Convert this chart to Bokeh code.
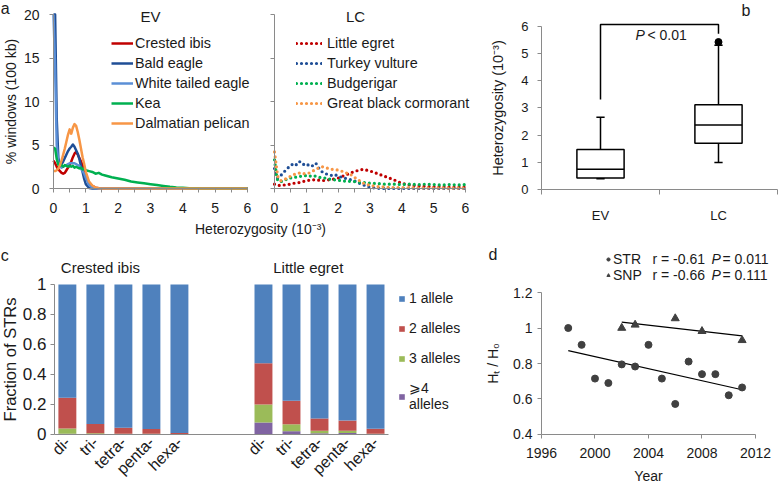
import math
from bokeh.plotting import figure
from bokeh.layouts import row, column
from bokeh.models import Range1d, FixedTicker, Legend, LegendItem, Label, ColumnDataSource
from bokeh.embed import file_html
from bokeh.resources import INLINE
from bokeh.core.properties import value

# ---------------- data: panel a (EV) ----------------
ev_x = [0.0, 0.05, 0.1, 0.15, 0.2, 0.25, 0.3, 0.35, 0.4, 0.45, 0.5, 0.55, 0.6, 0.65, 0.7, 0.75, 0.8, 0.85, 0.9, 0.95, 1.0,
        1.1, 1.2, 1.3, 1.4, 1.5, 1.6,
        1.8, 2.0, 2.2, 2.4, 2.6, 2.8, 3.0, 3.2, 3.4, 3.6, 3.8, 4.0, 4.2, 4.4, 4.6, 4.8, 5.0, 5.2, 5.4, 5.6, 5.8, 6.0]
crested_ibis = [3.2, 2.9, 2.5, 2.2, 2.0, 1.8, 1.7, 1.8, 2.1, 2.4, 2.7, 3.1, 3.6, 4.0, 4.2, 3.9, 3.5, 3.1, 2.7, 2.1, 1.5,
                0.6, 0.3, 0.1, 0.02, 0, 0,
                0, 0, 0, 0, 0, 0, 0, 0, 0, 0, 0, 0, 0, 0, 0, 0, 0, 0, 0, 0, 0, 0]
bald_eagle = [20, 20, 8.0, 3.5, 2.6, 2.8, 3.1, 3.5, 3.9, 4.3, 4.6, 4.8, 5.05, 4.8, 4.4, 4.0, 3.4, 2.6, 1.9, 1.1, 0.5,
              0.05, 0, 0, 0, 0, 0,
              0, 0, 0, 0, 0, 0, 0, 0, 0, 0, 0, 0, 0, 0, 0, 0, 0, 0, 0, 0, 0, 0]
white_tailed_eagle = [20, 14, 5.0, 3.0, 2.5, 2.4, 2.5, 2.6, 2.7, 2.8, 2.9, 2.9, 2.9, 2.9, 2.8, 2.7, 2.6, 2.3, 2.0, 1.7, 1.2,
                      0.4, 0.1, 0.02, 0, 0, 0,
                      0, 0, 0, 0, 0, 0, 0, 0, 0, 0, 0, 0, 0, 0, 0, 0, 0, 0, 0, 0, 0, 0]
kea = [4.7, 4.6, 3.4, 2.7, 2.6, 2.7, 2.5, 2.7, 2.6, 2.5, 2.6, 2.5, 2.6, 2.4, 2.5, 2.4, 2.3, 2.4, 2.2, 2.3, 2.1,
       2.0, 1.9, 1.7, 1.8, 1.6, 1.5,
       1.3, 1.15, 1.0, 0.8, 0.7, 0.6, 0.5, 0.4, 0.3, 0.2, 0.12, 0.08, 0.04, 0.02, 0.01, 0, 0, 0, 0, 0, 0, 0]
dalmatian_pelican = [2.0, 2.0, 2.1, 2.3, 2.7, 3.2, 3.9, 4.6, 5.4, 6.2, 6.8, 6.3, 7.0, 7.4, 7.2, 6.5, 5.6, 4.6, 3.6, 2.8, 1.9,
                     0.8, 0.35, 0.12, 0.04, 0, 0,
                     0, 0, 0, 0, 0, 0, 0, 0, 0, 0, 0, 0, 0, 0, 0, 0, 0, 0, 0, 0, 0, 0]
ev_names = ["Crested ibis", "Bald eagle", "White tailed eagle", "Kea", "Dalmatian pelican"]

# ---------------- data: panel a (LC) ----------------
lc_x = [0.0, 0.05, 0.1, 0.2, 0.3, 0.4, 0.5, 0.6, 0.7, 0.8, 0.9, 1.0, 1.1, 1.2, 1.3, 1.4, 1.5, 1.6, 1.7, 1.8, 1.9,
        2.0, 2.1, 2.2, 2.3, 2.4, 2.5, 2.6, 2.7, 2.8, 2.9, 3.0, 3.1, 3.2, 3.3, 3.4, 3.5,
        3.75, 4.0, 4.25, 4.5, 4.75, 5.0, 5.25, 5.5, 5.75, 6.0]
little_egret = [0.5, 0.4, 0.35, 0.35, 0.4, 0.45, 0.5, 0.6, 0.65, 0.7, 0.8, 0.9, 0.95, 1.0, 1.0, 0.95, 0.9, 0.95, 1.0, 1.05, 1.1,
                1.2, 1.35, 1.5, 1.65, 1.8, 1.95, 2.05, 2.15, 2.2, 2.1, 2.0, 1.9, 1.75, 1.6, 1.5, 1.35,
                1.0, 0.6, 0.4, 0.3, 0.25, 0.2, 0.2, 0.15, 0.15, 0.15]
turkey_vulture = [2.3, 1.5, 1.2, 1.5, 1.9, 2.3, 2.6, 2.9, 2.7, 3.1, 2.8, 2.6, 2.8, 2.6, 2.9, 2.3, 1.9, 1.7, 1.6, 1.5, 1.6,
                  1.4, 1.3, 1.2, 1.1, 1.0, 0.9, 0.7, 0.55, 0.4, 0.25, 0.15, 0.08, 0.04, 0.02, 0.01, 0.0,
                  0, 0, 0, 0, 0, 0, 0, 0, 0, 0]
budgerigar = [3.3, 1.8, 0.9, 0.8, 0.9, 1.1, 1.2, 1.3, 1.3, 1.4, 1.4, 1.5, 1.4, 1.5, 1.4, 1.3, 1.2, 1.2, 1.1, 1.0, 1.0,
              0.95, 0.9, 0.85, 0.85, 0.8, 0.8, 0.75, 0.7, 0.7, 0.65, 0.6, 0.6, 0.55, 0.55, 0.5, 0.5,
              0.5, 0.45, 0.5, 0.45, 0.5, 0.45, 0.4, 0.45, 0.4, 0.45]
great_black_cormorant = [4.2, 2.8, 1.4, 0.9, 1.0, 1.2, 1.4, 1.6, 1.7, 1.8, 1.7, 1.7, 1.8, 2.0, 2.2, 2.4, 2.5, 2.4, 2.3, 2.2, 2.2,
                         2.1, 2.0, 1.9, 1.7, 1.6, 1.3, 1.1, 0.8, 0.6, 0.45, 0.4, 0.3, 0.25, 0.2, 0.2, 0.15,
                         0.1, 0.1, 0.08, 0.06, 0.05, 0.05, 0.05, 0.04, 0.04, 0.04]
lc_names = ["Little egret", "Turkey vulture", "Budgerigar", "Great black cormorant"]
het_ticks = [0, 1, 2, 3, 4, 5, 6]
pct_ticks = [0, 5, 10, 15, 20]

# ---------------- data: panel b ----------------
box_groups = ["EV", "LC"]
box_low = [0.40, 1.00]
box_q1 = [0.43, 1.71]
box_med = [0.755, 2.38]
box_q3 = [1.48, 3.12]
box_high = [2.66, 5.30]
outlier_group = ["LC"]
outlier_val = [5.42]
bracket_heights = [3.31, 6.06, 5.72]   # EV leg bottom, top bar, LC leg bottom
het_b_ticks = [0, 1, 2, 3, 4, 5, 6]

# ---------------- data: panel c ----------------
motifs = ["di-", "tri-", "tetra-", "penta-", "hexa-"]
species_c = ["Crested ibis", "Little egret"]
allele_labels = ["1 allele", "2 alleles", "3 alleles", "\u2a7e4\nalleles"]
ibis_1 = [0.755, 0.930, 0.955, 0.963, 0.990]
ibis_2 = [0.205, 0.062, 0.040, 0.032, 0.009]
ibis_3 = [0.035, 0.006, 0.004, 0.004, 0.001]
ibis_4 = [0.005, 0.002, 0.001, 0.001, 0.000]
egret_1 = [0.525, 0.775, 0.893, 0.907, 0.962]
egret_2 = [0.275, 0.157, 0.082, 0.068, 0.033]
egret_3 = [0.120, 0.046, 0.017, 0.015, 0.003]
egret_4 = [0.080, 0.022, 0.008, 0.010, 0.002]
frac_ticks = [0, 0.2, 0.4, 0.6, 0.8, 1]

# ---------------- data: panel d ----------------
str_years = [1998, 1999, 2000, 2001, 2002, 2003, 2004, 2005, 2006, 2007, 2008, 2009, 2010, 2011]
str_ratio = [1.0, 0.905, 0.715, 0.69, 0.795, 0.783, 0.905, 0.715, 0.572, 0.811, 0.74, 0.74, 0.621, 0.665]
snp_years = [2002, 2003, 2006, 2008, 2011]
snp_ratio = [1.0, 1.018, 1.054, 0.982, 0.931]
str_fit_x = [1998, 2011]
str_fit_y = [0.873, 0.652]
snp_fit_x = [2002, 2011]
snp_fit_y = [1.033, 0.956]
stat_names = ["STR", "SNP"]
stat_r = ["-0.61", "-0.66"]
stat_p = ["0.011", "0.111"]
year_ticks = [1996, 2000, 2004, 2008, 2012]
ratio_ticks = [0.4, 0.6, 0.8, 1, 1.2]

# ---------------- style ----------------
FONT = "Liberation Sans"
TXT = "#1a1a1a"
AXC = "#8a8a8a"
RED = "#C00000"
DBLUE = "#1F4E96"
LBLUE = "#5B8FD6"
GREEN = "#00B050"
ORANGE = "#F79646"
C_BLUE = "#4F81BD"
C_RED = "#C0504D"
C_GREEN = "#9BBB59"
C_PURPLE = "#8064A2"
PT = "#404040"


def mkfig(w, h, xr, yr, x_at, y_at, tick_size="14px", label_size="14px"):
    # the frame fills the whole canvas; both axes are pinned inside it
    p = figure(width=w, height=h, x_range=xr, y_range=yr, output_backend="svg",
               toolbar_location=None, title=None, min_border=0)
    p.xgrid.visible = False
    p.ygrid.visible = False
    p.outline_line_color = None
    p.background_fill_color = "white"
    p.border_fill_color = "white"
    p.xaxis.fixed_location = x_at
    p.yaxis.fixed_location = y_at
    for ax in p.axis:
        ax.axis_line_color = AXC
        ax.major_tick_line_color = AXC
        ax.minor_tick_line_color = AXC
        ax.major_tick_in = 0
        ax.minor_tick_in = 0
        ax.major_tick_out = 4
        ax.minor_tick_out = 0
        ax.major_label_text_font = FONT
        ax.major_label_text_font_size = tick_size
        ax.major_label_text_color = TXT
        ax.axis_label_text_font = FONT
        ax.axis_label_text_font_size = label_size
        ax.axis_label_text_font_style = "normal"
        ax.axis_label_text_color = TXT
    return p


def lab(p, x, y, text, size="14px", align="center", baseline="middle", style="normal"):
    p.add_layout(Label(x=x, y=y, text=text, text_font=FONT, text_font_size=size,
                       text_align=align, text_baseline=baseline, text_color=TXT,
                       text_font_style=style))


def legend_style(lg, size="14px"):
    lg.label_text_font = FONT
    lg.label_text_font_size = size
    lg.label_text_color = TXT
    lg.padding = 0
    lg.margin = 0
    lg.border_line_alpha = 0
    lg.background_fill_alpha = 0


# ---------------- panel a, EV ----------------
a1 = mkfig(258, 220, Range1d(-1.639, 6.341), Range1d(-3.678, 21.61), 0, 0)
a1.xaxis.ticker = FixedTicker(ticks=het_ticks, minor_ticks=[t + 0.5 for t in het_ticks[:-1]])
a1.xaxis.bounds = (0, 6)
a1.xaxis.minor_tick_out = 4
a1.xaxis.major_label_standoff = 10
a1.yaxis.ticker = FixedTicker(ticks=pct_ticks)
a1.yaxis.bounds = (0, 20)
a1.yaxis.major_label_standoff = 10
a1.yaxis.axis_label = "% windows (100 kb)"
a1.yaxis.axis_label_standoff = 2
ev_series = [crested_ibis, bald_eagle, white_tailed_eagle, kea, dalmatian_pelican]
ev_cols = [RED, DBLUE, LBLUE, GREEN, ORANGE]
ev_items = []
for name, ys, col in zip(ev_names, ev_series, ev_cols):
    r = a1.line(ev_x, ys, line_color=col, line_width=2.5, line_join="round")
    ev_items.append(LegendItem(label=name, renderers=[r]))
lg = Legend(items=ev_items, location=(111, 87), glyph_width=22, glyph_height=20,
            label_height=20, label_standoff=2, spacing=0)
legend_style(lg, "14.4px")
a1.add_layout(lg)
lab(a1, 3.0, 19.77, "EV", size="15px")
lab(a1, -1.63, 20.69, "a", size="16px", align="left")

# ---------------- panel a, LC ----------------
a2 = mkfig(222, 220, Range1d(-0.503, 6.471), Range1d(-3.678, 21.61), 0, 0)
a2.xaxis.ticker = FixedTicker(ticks=het_ticks, minor_ticks=[t + 0.5 for t in het_ticks[:-1]])
a2.xaxis.bounds = (0, 6)
a2.xaxis.minor_tick_out = 4
a2.xaxis.major_label_standoff = 10
a2.yaxis.ticker = FixedTicker(ticks=pct_ticks)
a2.yaxis.bounds = (0, 20)
a2.yaxis.major_label_overrides = {t: "" for t in pct_ticks}
a2.yaxis.major_label_standoff = 0
lc_series = [little_egret, turkey_vulture, budgerigar, great_black_cormorant]
lc_cols = [RED, DBLUE, GREEN, ORANGE]
lc_items = []
for name, ys, col in zip(lc_names, lc_series, lc_cols):
    r = a2.line(lc_x, ys, line_color=col, line_width=3.2, line_dash="0 5", line_cap="round")
    lc_items.append(LegendItem(label=name, renderers=[r]))
lg2 = Legend(items=lc_items, location=(38, 107), glyph_width=26, glyph_height=20,
             label_height=20, label_standoff=5, spacing=0)
legend_style(lg2, "14.4px")
a2.add_layout(lg2)
lab(a2, 2.545, 19.77, "LC", size="15px")

# shared x-axis title of panel a
t = figure(width=480, height=26, x_range=Range1d(0, 480), y_range=Range1d(0, 26),
           x_axis_type=None, y_axis_type=None, output_backend="svg", toolbar_location=None,
           title=None, min_border=0)
t.outline_line_color = None
t.xgrid.visible = False
t.ygrid.visible = False
lab(t, 260, 18, "Heterozygosity (10\u207b\u00b3)")

# ---------------- panel b ----------------
b = mkfig(298, 246, Range1d(-0.517, 2.0085), Range1d(-2.083, 6.944), 0, 0,
          tick_size="13px", label_size="14.5px")
bx = [i + 0.5 for i in range(len(box_groups))]
b.yaxis.ticker = FixedTicker(ticks=het_b_ticks)
b.yaxis.bounds = (0, 6)
b.yaxis.major_label_standoff = 9
b.yaxis.axis_label = "Heterozygosity (10\u207b\u00b3)"
b.yaxis.axis_label_standoff = 12
b.xaxis.ticker = FixedTicker(ticks=bx, minor_ticks=[0, 1, 2])
b.xaxis.bounds = (0, 2)
b.xaxis.major_label_overrides = {x: g for x, g in zip(bx, box_groups)}
b.xaxis.major_tick_out = 0
b.xaxis.minor_tick_out = 5
b.xaxis.major_label_standoff = 13
bsrc = ColumnDataSource(dict(x=bx, lo=box_low, q1=box_q1, med=box_med, q3=box_q3, hi=box_high,
                             xl=[x - 0.2 for x in bx], xr=[x + 0.2 for x in bx],
                             cl=[x - 0.035 for x in bx], cr=[x + 0.035 for x in bx]))
b.segment(x0="x", y0="q3", x1="x", y1="hi", source=bsrc, line_color="black", line_width=1.5)
b.segment(x0="x", y0="lo", x1="x", y1="q1", source=bsrc, line_color="black", line_width=1.5)
b.segment(x0="cl", y0="hi", x1="cr", y1="hi", source=bsrc, line_color="black", line_width=1.5)
b.segment(x0="cl", y0="lo", x1="cr", y1="lo", source=bsrc, line_color="black", line_width=1.5)
b.vbar(x="x", bottom="q1", top="q3", width=0.4, source=bsrc, fill_color="white",
       line_color="black", line_width=1.5)
b.segment(x0="xl", y0="med", x1="xr", y1="med", source=bsrc, line_color="black", line_width=1.5)
b.scatter([bx[box_groups.index(g)] for g in outlier_group], outlier_val, size=7,
          marker="circle", fill_color="black", line_color="black")
b.line([bx[0], bx[0], bx[1], bx[1]],
       [bracket_heights[0], bracket_heights[1], bracket_heights[1], bracket_heights[2]],
       line_color="black", line_width=1.5)
b.text(x=[0.797], y=[5.66], text=["P"], text_font=value(FONT), text_font_size="14px",
       text_font_style="italic", text_baseline="middle", text_align="left", text_color=TXT)
b.text(x=[0.898], y=[5.66], text=["< 0.01"], text_font=value(FONT), text_font_size="14px",
       text_baseline="middle", text_align="left", text_color=TXT)
lab(b, 1.695, 6.90, "b", size="16px", align="left", baseline="top")

# ---------------- panel c ----------------
c = mkfig(480, 240, Range1d(-2.387, 14.747), Range1d(-0.3467, 1.2533), 0, -0.46,
          tick_size="16px", label_size="16.5px")
cx = []
for si in range(len(species_c)):
    cx += [si * 7 + i for i in range(len(motifs))]
csrc = ColumnDataSource(dict(x=cx, a1=ibis_1 + egret_1, a2=ibis_2 + egret_2,
                             a3=ibis_3 + egret_3, a4=ibis_4 + egret_4))
rs = c.vbar_stack(["a4", "a3", "a2", "a1"], x="x", width=0.64, source=csrc,
                  fill_color=[C_PURPLE, C_GREEN, C_RED, C_BLUE], line_color=None)
c.xaxis.ticker = FixedTicker(ticks=cx)
c.xaxis.major_label_overrides = {x: motifs[i % len(motifs)] for i, x in enumerate(cx)}
c.xaxis.major_label_orientation = math.pi / 4
c.xaxis.major_tick_out = 0
c.xaxis.major_label_standoff = 5
c.xaxis.bounds = (-0.46, 11.46)
c.yaxis.ticker = FixedTicker(ticks=frac_ticks)
c.yaxis.bounds = (0, 1)
c.yaxis.major_label_overrides = {0: "0", 1: "1"}
c.yaxis.major_label_text_font_size = "17px"
c.yaxis.major_label_standoff = 4
c.yaxis.axis_label = "Fraction of STRs"
c.yaxis.axis_label_standoff = 1
c_items = [LegendItem(label=allele_labels[i], renderers=[rs[3 - i]]) for i in range(4)]
lg3 = Legend(items=c_items, location=(398, 74), glyph_width=7, glyph_height=7,
             label_height=16, label_standoff=4, spacing=14)
legend_style(lg3, "14px")
c.add_layout(lg3)
lab(c, 1.18, 1.113, species_c[0], size="15px")
lab(c, 8.60, 1.113, species_c[1], size="15px")
lab(c, -2.38, 1.193, "c", size="16px", align="left")

# ---------------- panel d ----------------
d = mkfig(298, 240, Range1d(1991.44, 2013.72), Range1d(0.107, 1.4592), 0.4, 1996)
d.xaxis.ticker = FixedTicker(ticks=year_ticks)
d.xaxis.bounds = (1996, 2012)
d.xaxis.major_label_standoff = 10
d.xaxis.axis_label = "Year"
d.xaxis.axis_label_standoff = 6
d.yaxis.ticker = FixedTicker(ticks=ratio_ticks)
d.yaxis.bounds = (0.4, 1.2)
d.yaxis.major_label_overrides = {1: "1"}
d.yaxis.major_label_standoff = 5
d.yaxis.axis_label = "H\u209c / H\u2080"
d.yaxis.axis_label_standoff = 9
d.line(str_fit_x, str_fit_y, line_color="black", line_width=1.2)
d.line(snp_fit_x, snp_fit_y, line_color="black", line_width=1.2)
r_str = d.scatter(str_years, str_ratio, marker="circle", size=7, fill_color=PT, line_color=PT)
r_snp = d.scatter(snp_years, snp_ratio, marker="triangle", size=8, fill_color=PT, line_color=PT)
lg4 = Legend(items=[LegendItem(label=stat_names[0], renderers=[r_str]),
                    LegendItem(label=stat_names[1], renderers=[r_snp])],
             location=(124, 203), glyph_width=8, glyph_height=8, label_height=14,
             label_standoff=1, spacing=0)
legend_style(lg4, "14px")
d.add_layout(lg4)
stat_y = [1.386, 1.300]
d.text(x=[2004.3] * 2, y=stat_y, text=["r = " + v for v in stat_r], text_font=value(FONT),
       text_font_size="14px", text_baseline="middle", text_align="left", text_color=TXT)
d.text(x=[2008.71] * 2, y=stat_y, text=["P", "P"], text_font=value(FONT), text_font_style="italic",
       text_font_size="14px", text_baseline="middle", text_align="left", text_color=TXT)
d.text(x=[2009.53] * 2, y=stat_y, text=["= " + v for v in stat_p], text_font=value(FONT),
       text_font_size="14px", text_baseline="middle", text_align="left", text_color=TXT)
lab(d, 1992.04, 1.414, "d", size="16px", align="left")

layout = column(row(column(row(a1, a2), t), b), row(c, d))
open("out.html", "w").write(file_html(layout, INLINE))
